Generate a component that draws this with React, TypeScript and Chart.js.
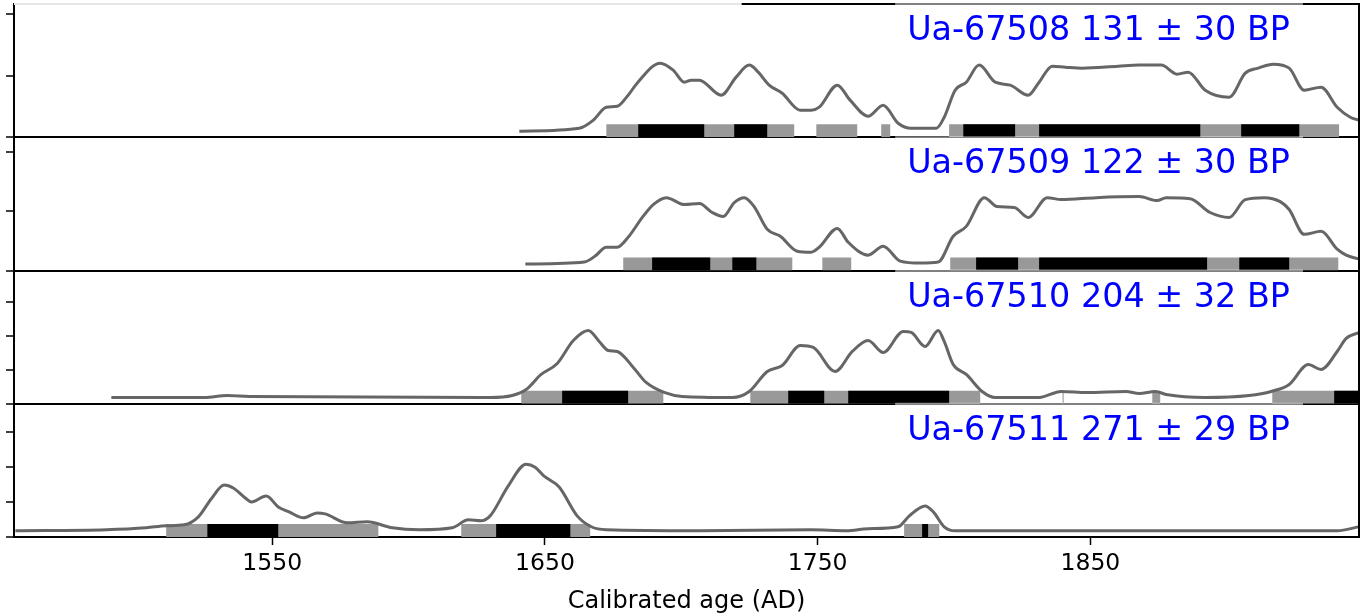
import { useEffect, useRef } from 'react';
import { Chart, registerables } from 'chart.js';

Chart.register(...registerables);

const FONT = '"DejaVu Sans", "Liberation Sans", sans-serif';

// ---------- data ----------
const PANEL_LABELS = [
  'Ua-67508 131 ± 30 BP',
  'Ua-67509 122 ± 30 BP',
  'Ua-67510 204 ± 32 BP',
  'Ua-67511 271 ± 29 BP',
];
const X_TITLE = 'Calibrated age (AD)';
const X_TICKS = [1550, 1650, 1750, 1850];
const X_MIN = 1455.3;
const X_MAX = 1948.5;

// [calendar year AD, relative probability]
const P1_CURVE = [
  [1640.6, 0.098], [1662.6, 0.146], [1667.7, 0.276], [1672.5, 0.488], [1676.5, 0.504], [1680.5, 0.683],
  [1683.8, 0.878], [1692.3, 1.203], [1697.0, 1.089], [1701.1, 0.894], [1703.6, 0.927], [1706.6, 0.927],
  [1714.6, 0.683], [1720.1, 0.976], [1724.9, 1.171], [1728.2, 1.057], [1732.2, 0.846], [1737.0, 0.715],
  [1743.6, 0.439], [1747.6, 0.439], [1750.6, 0.488], [1757.2, 0.846], [1761.9, 0.602], [1768.5, 0.341],
  [1774.0, 0.520], [1779.5, 0.228], [1784.3, 0.146], [1793.5, 0.146], [1796.4, 0.325], [1800.4, 0.764],
  [1804.5, 0.894], [1809.2, 1.171], [1815.1, 0.894], [1820.6, 0.846], [1827.2, 0.683], [1831.2, 0.894],
  [1836.0, 1.154], [1840.8, 1.138], [1847.0, 1.122], [1860.2, 1.154], [1867.9, 1.171], [1876.0, 1.171],
  [1881.8, 1.024], [1885.9, 1.057], [1892.1, 0.764], [1900.9, 0.650], [1906.8, 1.041], [1911.5, 1.122],
  [1917.0, 1.187], [1922.9, 1.122], [1928.4, 0.764], [1934.6, 0.813], [1940.5, 0.488], [1945.3, 0.325],
  [1948.6, 0.276],
];
const P2_CURVE = [
  [1642.8, 0.108], [1664.4, 0.142], [1668.4, 0.242], [1672.5, 0.392], [1676.5, 0.392], [1680.5, 0.558],
  [1685.7, 0.892], [1689.7, 1.108], [1694.5, 1.225], [1701.1, 1.108], [1706.6, 1.125], [1711.3, 0.975],
  [1715.4, 0.908], [1719.4, 1.142], [1723.1, 1.225], [1726.7, 1.075], [1731.5, 0.692], [1736.3, 0.575],
  [1742.5, 0.325], [1747.6, 0.308], [1750.6, 0.392], [1757.2, 0.708], [1761.2, 0.475], [1768.5, 0.258],
  [1774.0, 0.408], [1780.3, 0.158], [1787.6, 0.125], [1794.2, 0.142], [1799.7, 0.575], [1804.5, 0.742],
  [1811.1, 1.225], [1815.8, 1.075], [1822.1, 1.058], [1827.2, 0.892], [1834.2, 1.225], [1839.3, 1.192],
  [1852.1, 1.225], [1867.9, 1.242], [1874.5, 1.175], [1877.8, 1.225], [1886.6, 1.208], [1893.9, 0.975],
  [1900.9, 0.892], [1906.8, 1.192], [1913.7, 1.225], [1919.6, 1.158], [1922.9, 1.025], [1928.4, 0.608],
  [1934.6, 0.658], [1940.5, 0.358], [1943.8, 0.258], [1948.6, 0.192],
];
const P3_CURVE = [
  [1491.0, 0.185], [1525.1, 0.185], [1533.5, 0.244], [1541.6, 0.215], [1629.9, 0.185], [1638.0, 0.244],
  [1643.1, 0.421], [1648.6, 0.862], [1654.5, 1.185], [1660.4, 1.862], [1665.9, 2.156], [1669.9, 1.832],
  [1673.2, 1.568], [1676.5, 1.538], [1682.4, 1.068], [1687.1, 0.626], [1693.7, 0.332], [1700.3, 0.215],
  [1718.7, 0.185], [1724.9, 0.362], [1731.5, 0.950], [1737.0, 1.126], [1743.6, 1.715], [1748.4, 1.656],
  [1756.4, 0.950], [1762.7, 1.538], [1768.5, 1.862], [1774.0, 1.509], [1781.4, 2.126], [1784.3, 2.097],
  [1789.4, 1.685], [1794.2, 2.156], [1796.4, 1.832], [1799.7, 1.156], [1804.5, 0.862], [1810.3, 0.362],
  [1815.1, 0.185], [1831.2, 0.185], [1839.3, 0.362], [1848.8, 0.332], [1863.1, 0.362], [1867.9, 0.303],
  [1873.8, 0.362], [1877.8, 0.274], [1892.1, 0.185], [1908.2, 0.244], [1916.3, 0.362], [1922.9, 0.568],
  [1929.9, 1.156], [1934.6, 1.009], [1940.5, 1.538], [1943.8, 1.921], [1948.6, 2.097],
];
const P4_CURVE = [
  [1455.8, 0.179], [1489.1, 0.207], [1503.8, 0.264], [1511.1, 0.321], [1517.7, 0.349], [1522.9, 0.577],
  [1527.6, 1.088], [1532.4, 1.486], [1535.7, 1.401], [1540.1, 1.116], [1542.3, 1.003], [1547.8, 1.173],
  [1552.2, 0.861], [1556.2, 0.719], [1561.4, 0.548], [1566.5, 0.690], [1569.4, 0.662], [1577.5, 0.406],
  [1584.8, 0.435], [1594.0, 0.264], [1603.9, 0.207], [1616.0, 0.264], [1621.9, 0.491], [1626.6, 0.463],
  [1629.9, 0.605], [1636.5, 1.457], [1643.1, 2.082], [1646.4, 1.997], [1649.7, 1.741], [1655.2, 1.429],
  [1661.8, 0.605], [1667.0, 0.293], [1672.5, 0.207], [1706.6, 0.179], [1747.6, 0.207], [1760.5, 0.179],
  [1768.5, 0.236], [1779.5, 0.293], [1783.6, 0.605], [1789.4, 0.889], [1792.4, 0.719], [1796.4, 0.293],
  [1800.4, 0.179], [1940.5, 0.179], [1948.6, 0.293],
];

// 95.4% (grey) and 68.2% (black) ranges, [from, to] years AD
const P1_95 = [[1672.5, 1741.4], [1749.5, 1764.5], [1773.3, 1776.6], [1798.2, 1941.2]];
const P1_68 = [[1684.2, 1708.4], [1719.4, 1731.5], [1803.4, 1822.4], [1831.2, 1890.3], [1905.3, 1926.6]];
const P2_95 = [[1678.7, 1740.7], [1751.7, 1762.3], [1798.6, 1940.9]];
const P2_68 = [[1689.3, 1710.6], [1718.7, 1727.5], [1808.1, 1823.5], [1831.2, 1892.8], [1904.6, 1922.9]];
const P3_95 = [[1641.3, 1693.4], [1725.3, 1809.6], [1839.8, 1840.2], [1872.7, 1875.6], [1916.7, 1950]];
const P3_68 = [[1656.3, 1680.5], [1739.2, 1752.4], [1761.2, 1798.2], [1939.4, 1950]];
const P4_95 = [[1511.1, 1588.9], [1619.3, 1666.6], [1781.7, 1794.6]];
const P4_68 = [[1526.2, 1552.2], [1632.1, 1659.3], [1788.3, 1790.5]];

const Y_MAX = [2.163, 2.24, 3.92, 3.815];
const Y_TICKS = [[0, 1, 2], [0, 1, 2], [0, 1, 2, 3], [0, 1, 2, 3]];

// ---------- styles ----------
const BAR_LEVEL = [0.105, 0.109, 0.191, 0.186];
const CURVES = [P1_CURVE, P2_CURVE, P3_CURVE, P4_CURVE];
const R95 = [P1_95, P2_95, P3_95, P4_95];
const R68 = [P1_68, P2_68, P3_68, P4_68];
const IDS = ['p1', 'p2', 'p3', 'p4'];

function rangePoints(ranges: number[][], level: number) {
  const pts: { x: number; y: number | null }[] = [];
  ranges.forEach(([a, b]) => {
    pts.push({ x: a, y: level }, { x: b, y: level }, { x: b, y: null });
  });
  return pts;
}

const framePlugin = {
  id: 'frame',
  afterDraw(chart: any) {
    const { ctx, chartArea } = chart;
    const { left, right, top, bottom } = chartArea;
    ctx.save();
    ctx.font = `33.4px ${FONT}`;
    // light boxes behind labels (soften the spine under each label)
    IDS.forEach((id, i) => {
      const s = chart.scales[id];
      const w = ctx.measureText(PANEL_LABELS[i]).width;
      const tx = right - 69;
      ctx.fillStyle = 'rgba(255,255,255,0.5)';
      ctx.fillRect(tx - w - 12, s.top - 1, w + 25, 40);
    });
    // right spine
    ctx.strokeStyle = '#000';
    ctx.lineWidth = 2;
    ctx.beginPath();
    ctx.moveTo(right, top - 1);
    ctx.lineTo(right, bottom + 1);
    ctx.stroke();
    // top spine (partly covered in the original)
    const split = left + (right - left) * 0.541;
    ctx.strokeStyle = '#e6e6e6';
    ctx.beginPath();
    ctx.moveTo(left, top);
    ctx.lineTo(split, top);
    ctx.stroke();
    ctx.strokeStyle = '#000';
    ctx.beginPath();
    ctx.moveTo(split, top);
    ctx.lineTo(right, top);
    ctx.stroke();
    ctx.fillStyle = 'rgba(255,255,255,0.5)';
    {
      const w = ctx.measureText(PANEL_LABELS[0]).width;
      ctx.fillRect(right - 69 - w - 12, top - 1.5, w + 25, 3);
    }
    // labels
    ctx.fillStyle = '#0000ff';
    ctx.textAlign = 'right';
    ctx.textBaseline = 'alphabetic';
    IDS.forEach((id, i) => {
      const s = chart.scales[id];
      ctx.fillText(PANEL_LABELS[i], right - 69, s.top + 36);
    });
    ctx.restore();
  },
};

export default function App() {
  const ref = useRef<HTMLCanvasElement>(null);
  useEffect(() => {
    if (!ref.current) return;
    const datasets: any[] = [];
    IDS.forEach((id, i) => {
      datasets.push({
        type: 'line',
        label: PANEL_LABELS[i],
        data: CURVES[i].map(([x, y]) => ({ x, y })),
        yAxisID: id,
        borderColor: '#666666',
        borderWidth: 3,
        pointRadius: 0,
        cubicInterpolationMode: 'monotone',
        fill: false,
        order: 0,
      });
      datasets.push({
        type: 'line',
        label: PANEL_LABELS[i] + ' 68.2%',
        data: rangePoints(R68[i], BAR_LEVEL[i]),
        yAxisID: id,
        borderColor: '#000000',
        borderWidth: 13,
        borderCapStyle: 'butt',
        pointRadius: 0,
        spanGaps: false,
        tension: 0,
        fill: false,
        clip: 0,
        order: 1,
      });
      datasets.push({
        type: 'line',
        label: PANEL_LABELS[i] + ' 95.4%',
        data: rangePoints(R95[i], BAR_LEVEL[i]),
        yAxisID: id,
        borderColor: '#999999',
        borderWidth: 13,
        borderCapStyle: 'butt',
        pointRadius: 0,
        spanGaps: false,
        tension: 0,
        fill: false,
        clip: 0,
        order: 2,
      });
    });

    const scales: any = {
      x: {
        type: 'linear',
        position: 'bottom',
        min: X_MIN,
        max: X_MAX,
        afterBuildTicks: (ax: any) => {
          ax.ticks = X_TICKS.map((v) => ({ value: v }));
        },
        ticks: {
          color: '#000',
          font: { family: FONT, size: 23.5 },
          padding: 5,
          autoSkip: false,
          maxRotation: 0,
          callback: (v: any) => String(v),
        },
        grid: { drawOnChartArea: false, tickLength: 8, tickColor: '#000', tickWidth: 1.5 },
        border: { display: true, color: '#000', width: 2 },
        title: {
          display: true,
          text: X_TITLE,
          color: '#000',
          font: { family: FONT, size: 24 },
          padding: { top: 4, bottom: 0 },
        },
      },
    };
    IDS.forEach((id, i) => {
      scales[id] = {
        type: 'linear',
        position: 'left',
        stack: 'panels',
        stackWeight: 1,
        weight: 4 - i,
        min: 0,
        max: Y_MAX[i],
        afterBuildTicks: (ax: any) => {
          ax.ticks = Y_TICKS[i].map((v) => ({ value: v }));
        },
        ticks: { display: false, stepSize: 1 },
        grid: {
          color: (c: any) => (c.tick && c.tick.value === 0 ? '#000' : 'rgba(0,0,0,0)'),
          lineWidth: 2,
          tickColor: '#000',
          tickLength: 8,
          tickWidth: 1.5,
        },
        border: { display: true, color: '#000', width: 2 },
      };
    });

    const chart = new Chart(ref.current, {
      type: 'line',
      data: { datasets },
      options: {
        animation: false,
        responsive: false,
        devicePixelRatio: 1,
        layout: { padding: { left: 6, right: 8, top: 4, bottom: 0 } },
        plugins: { legend: { display: false }, tooltip: { enabled: false }, title: { display: false } },
        scales,
      },
      plugins: [framePlugin],
    } as any);
    return () => chart.destroy();
  }, []);

  return (
    <canvas
      ref={ref}
      width={1367}
      height={616}
      style={{ position: 'absolute', left: 0, top: 0, display: 'block', background: '#fff' }}
    />
  );
}
